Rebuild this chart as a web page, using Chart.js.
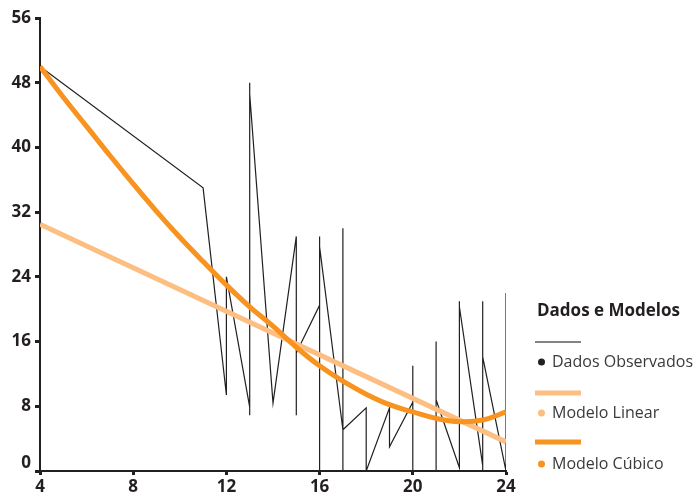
<!DOCTYPE html>
<html>
<head>
<meta charset="utf-8">
<script src="https://cdn.jsdelivr.net/npm/chart.js@4"></script>
<style>
  body { margin: 0; background: #fff; }
  canvas { display: block; }
</style>
</head>
<body>
<canvas id="chart" width="697" height="496"></canvas>
<script>
// observed points, in drawing order (repeated x give the vertical strokes)
const obsX = [4, 11, 12, 12, 13, 13, 13, 13, 14, 15, 15, 15, 16, 16, 16, 16, 17, 17, 17, 17, 18, 18, 19, 19, 20, 20, 20, 21, 21, 21, 22, 22, 22, 23, 23, 23, 23, 24, 24];
const obsY = [50, 35, 9.4, 24, 7.9, 48, 6.9, 46.6, 8.4, 29, 6.9, 14.6, 20.5, 29, 0, 27.7, 5.1, 30, 0, 5.1, 7.8, 0, 7.8, 3, 8.5, 13, 0, 0, 16, 8.8, 0.4, 21, 20.3, 0.7, 21, 0, 14.1, 0, 22];

const linX = [4, 24];
const linY = [30.5, 3.6];

const cubX = [4, 5, 6, 7, 8, 9, 10, 11, 12, 13, 14, 15, 16, 17, 18, 19, 20, 21, 22, 23, 24];
const cubY = [50, 46.2, 42.6, 39.0, 35.5, 32.1, 28.9, 25.9, 23.0, 20.3, 17.9, 15.3, 13.0, 11.1, 9.5, 8.2, 7.3, 6.5, 6.1, 6.3, 7.3];

const xTicks = [4, 8, 12, 16, 20, 24];
const yTicks = [0, 8, 16, 24, 32, 40, 48, 56];

const legendTitle = "Dados e Modelos";

function pts(xs, ys) {
  return xs.map((x, i) => ({ x: x, y: ys[i] }));
}

const ink = "#231F20";
const tickFont = { family: "Open Sans", size: 17, weight: "bold" };

const legendPlugin = {
  id: "sideLegend",
  afterDraw(chart) {
    const ctx = chart.ctx;
    ctx.save();
    // the zero label sits a little above its tick in the original
    const ys = chart.scales.y;
    ctx.fillStyle = ink;
    ctx.font = "bold 17px 'Open Sans'";
    ctx.textAlign = "right";
    ctx.textBaseline = "middle";
    ctx.fillText("0", ys.right - 9, ys.getPixelForValue(0) - 8);

    ctx.textAlign = "left";
    ctx.fillText(legendTitle, 537, 311);
    const rows = [
      { lineY: 342, textY: 362, lineColor: "#5a5a5a", lineW: 1.3, dot: ink },
      { lineY: 393, textY: 413, lineColor: "#FDBE82", lineW: 5, dot: "#FDBE82" },
      { lineY: 442, textY: 464, lineColor: "#F7931E", lineW: 5, dot: "#F7931E" },
    ];
    ctx.font = "16px 'Open Sans'";
    chart.data.datasets.forEach((ds, i) => {
      const r = rows[i];
      ctx.strokeStyle = r.lineColor;
      ctx.lineWidth = r.lineW;
      ctx.beginPath();
      ctx.moveTo(535, r.lineY);
      ctx.lineTo(581, r.lineY);
      ctx.stroke();
      ctx.fillStyle = r.dot;
      ctx.beginPath();
      ctx.arc(541.5, r.textY, 3.5, 0, Math.PI * 2);
      ctx.fill();
      ctx.fillStyle = "#3a3a3a";
      ctx.fillText(ds.label, 552, r.textY);
    });
    ctx.restore();
  },
};

const chart = new Chart(document.getElementById("chart"), {
  type: "line",
  data: {
    datasets: [
      {
        label: "Dados Observados",
        data: pts(obsX, obsY),
        borderColor: ink,
        borderWidth: 1.2,
        pointRadius: 0,
        tension: 0,
        order: 3,
      },
      {
        label: "Modelo Linear",
        data: pts(linX, linY),
        borderColor: "#FDBE82",
        borderWidth: 5,
        pointRadius: 0,
        tension: 0,
        order: 2,
      },
      {
        label: "Modelo Cúbico",
        data: pts(cubX, cubY),
        borderColor: "#F7931E",
        borderWidth: 5,
        pointRadius: 0,
        tension: 0.4,
        order: 1,
      },
    ],
  },
  options: {
    responsive: false,
    animation: false,
    layout: { padding: { top: 18, right: 191, left: 0, bottom: 0 } },
    plugins: { legend: { display: false }, tooltip: { enabled: false } },
    scales: {
      x: {
        type: "linear",
        min: 4,
        max: 24,
        afterFit(scale) { scale.height = 25; },
        afterBuildTicks(scale) { scale.ticks = xTicks.map(v => ({ value: v })); },
        border: { color: ink, width: 2 },
        grid: { drawOnChartArea: false, tickLength: 4, tickWidth: 3, tickColor: ink },
        ticks: { color: ink, font: tickFont, padding: 2, maxRotation: 0 },
      },
      y: {
        min: 0,
        max: 56,
        afterFit(scale) { scale.width = 40; },
        afterBuildTicks(scale) { scale.ticks = yTicks.map(v => ({ value: v })); },
        border: { color: ink, width: 2 },
        grid: { drawOnChartArea: false, tickLength: 5, tickWidth: 3, tickColor: ink },
        ticks: {
          color: ink,
          font: tickFont,
          padding: 4,
          callback: v => (v === 0 ? "" : v),
        },
      },
    },
  },
  plugins: [legendPlugin],
});
</script>
</body>
</html>
